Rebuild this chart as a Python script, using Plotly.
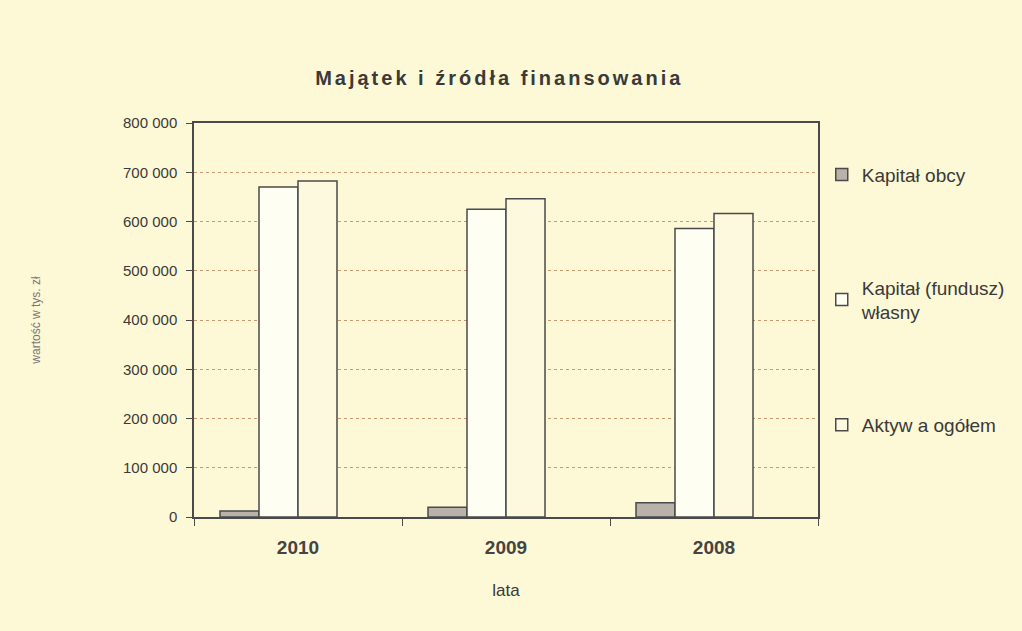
import plotly.graph_objects as go

years = ["2010", "2009", "2008"]
kapital_obcy = [12000, 20000, 29000]
kapital_wlasny = [670000, 625000, 586000]
aktywa_ogolem = [682000, 646000, 616000]
y_ticks = [0, 100000, 200000, 300000, 400000, 500000, 600000, 700000, 800000]

bg = "#fdf8d6"
edge = "#4a4a4a"
txt = "#3a3a3a"
fam = "Liberation Sans, Arial, sans-serif"

fig = go.Figure()
fig.add_trace(go.Bar(x=years, y=kapital_obcy, name="Kapitał obcy", legendgroup="a",
                     marker=dict(color="#b9b2aa", line=dict(color=edge, width=1.5))))
fig.add_trace(go.Bar(x=years, y=kapital_wlasny, name="Kapitał (fundusz)<br>własny", legendgroup="b",
                     marker=dict(color="#fffef2", line=dict(color=edge, width=1.5))))
fig.add_trace(go.Bar(x=years, y=aktywa_ogolem, name="Aktyw a ogółem", legendgroup="c",
                     marker=dict(color="#fdf9de", line=dict(color=edge, width=1.5))))
fig.add_trace(go.Bar(x=years, y=[0, 0, 0], name="", showlegend=False, hoverinfo="skip",
                     marker=dict(color="rgba(0,0,0,0)", line=dict(width=0))))

fig.update_layout(
    width=1060, height=631,
    paper_bgcolor=bg, plot_bgcolor=bg,
    margin=dict(l=194, r=242, t=123, b=114, autoexpand=False),
    barmode="group", bargap=0.25, bargroupgap=0,
    separators=", ",
    font=dict(family=fam, color=txt),
    title=dict(text='<span style="letter-spacing:3px"><b>Majątek i źródła finansowania</b></span>',
               x=0.471, xanchor="center", y=0.876, yanchor="middle",
               font=dict(size=20, color="#3a3a3a", family=fam)),
    legend=dict(x=1.006, y=0.917, xanchor="left", yanchor="top", tracegroupgap=85,
                font=dict(size=19, color=txt), bgcolor="rgba(0,0,0,0)"),
    showlegend=True,
)
fig.update_xaxes(type="category", showline=True, linecolor=edge, linewidth=1.5, mirror=True,
                 ticks="outside", tickson="boundaries", ticklen=7, tickcolor=edge,
                 ticklabelstandoff=12,
                 tickfont=dict(size=19, color="#444", family=fam),
                 tickprefix="<b>", ticksuffix="</b>",
                 title=dict(text="lata", font=dict(size=17, color=txt), standoff=28))
fig.update_yaxes(range=[0, 800000], tickvals=y_ticks, tickformat=",d",
                 showline=True, linecolor=edge, linewidth=1.5, mirror=True,
                 ticks="outside", ticklen=6, tickcolor=edge, ticklabelstandoff=6,
                 tickfont=dict(size=15, color=txt),
                 showgrid=True, gridcolor="#c89a70", griddash="dot", gridwidth=1,
                 zeroline=False,
                 title=dict(text="wartość w tys. zł", font=dict(size=12, color="#777"), standoff=80))

fig.write_html("out.html", config={"displayModeBar": False},
               post_script="document.body.style.margin='0';document.body.style.overflow='hidden';"
                           "document.body.style.background='#fdf8d6';")
